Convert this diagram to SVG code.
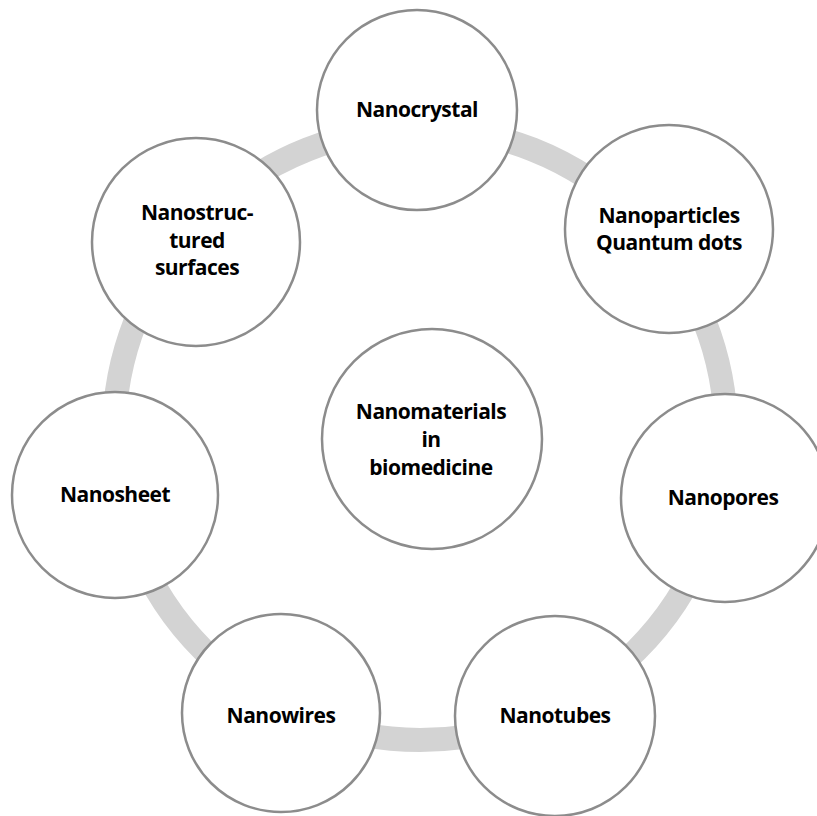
<svg xmlns="http://www.w3.org/2000/svg" width="817" height="816" viewBox="0 0 817 816">
  <style>
    .ring { fill: none; stroke: #d3d3d3; stroke-width: 24; }
    .node { fill: #ffffff; stroke: #8c8c8c; stroke-width: 2.5; }
    .label { font-family: "Open Sans", "Noto Sans", "Liberation Sans", sans-serif; font-weight: 700; font-size: 21px; letter-spacing: -0.5px; fill: #000000; text-anchor: middle; }
  </style>
  <rect width="817" height="816" fill="#ffffff"/>

  <!-- connecting ring behind the nodes -->
  <g id="connectors">
    <circle class="ring" cx="420" cy="434" r="306"/>
  </g>

  <g id="center">
    <circle class="node" cx="432" cy="439" r="110"/>
    <text class="label" x="431" y="419">Nanomaterials</text>
    <text class="label" x="431" y="447">in</text>
    <text class="label" x="431" y="475">biomedicine</text>
  </g>

  <g id="nanocrystal">
    <circle class="node" cx="417" cy="110" r="100"/>
    <text class="label" x="417" y="117">Nanocrystal</text>
  </g>

  <g id="nanoparticles">
    <circle class="node" cx="669" cy="229" r="104"/>
    <text class="label" x="669" y="223">Nanoparticles</text>
    <text class="label" x="669" y="250">Quantum dots</text>
  </g>

  <g id="nanopores">
    <circle class="node" cx="725" cy="498" r="104"/>
    <text class="label" x="723" y="505">Nanopores</text>
  </g>

  <g id="nanotubes">
    <circle class="node" cx="555" cy="716" r="100"/>
    <text class="label" x="555" y="723">Nanotubes</text>
  </g>

  <g id="nanowires">
    <circle class="node" cx="281" cy="713" r="99"/>
    <text class="label" x="281" y="723">Nanowires</text>
  </g>

  <g id="nanosheet">
    <circle class="node" cx="115" cy="495" r="103"/>
    <text class="label" x="115" y="502">Nanosheet</text>
  </g>

  <g id="nanostructured">
    <circle class="node" cx="196" cy="242" r="104"/>
    <text class="label" x="197" y="220">Nanostruc-</text>
    <text class="label" x="197" y="248">tured</text>
    <text class="label" x="197" y="275">surfaces</text>
  </g>
</svg>
